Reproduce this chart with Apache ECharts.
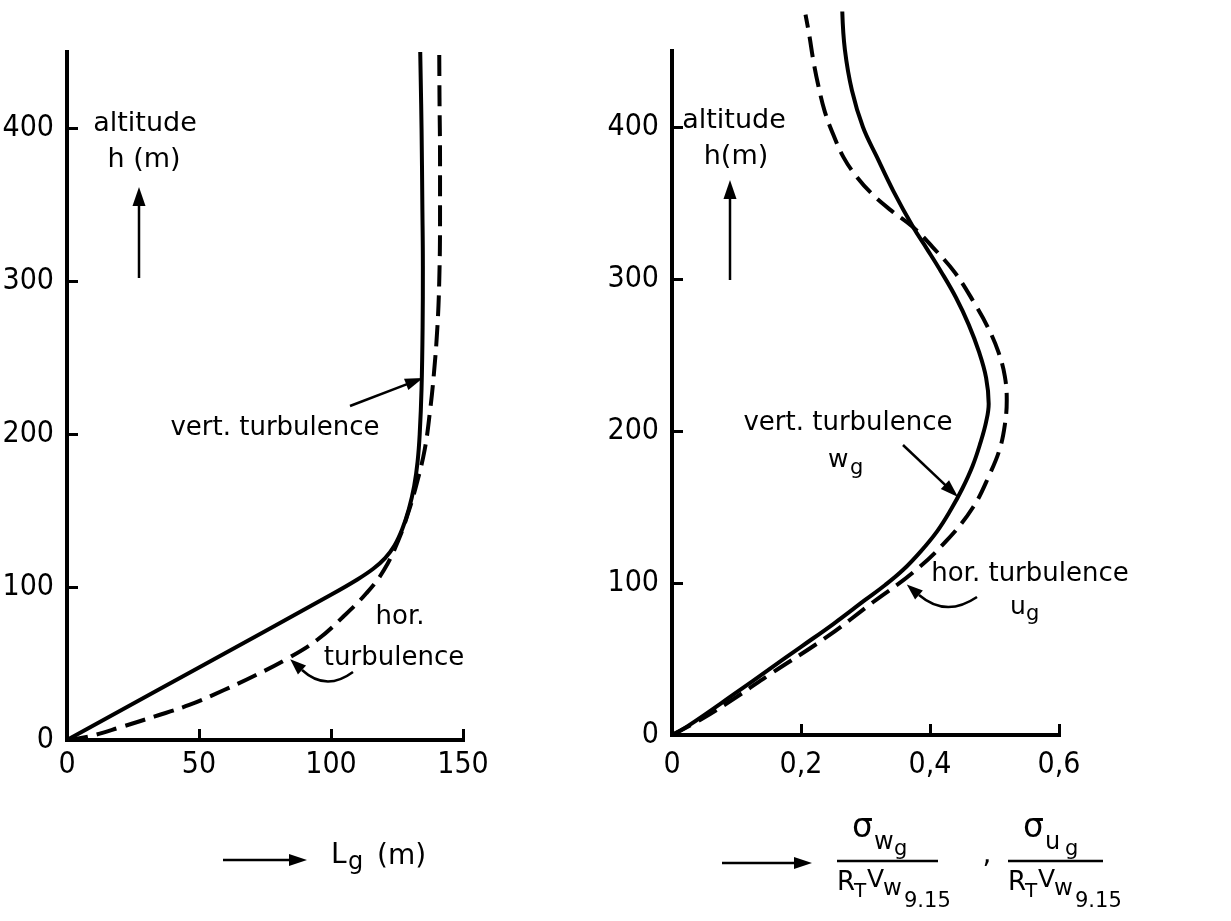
<!DOCTYPE html>
<html>
<head>
<meta charset="utf-8">
<title>Turbulence scale length and intensity vs. altitude</title>
<script src="https://cdn.jsdelivr.net/npm/echarts@6/dist/echarts.min.js"></script>
<style>
  html, body { margin: 0; padding: 0; background: #fff; }
  #chart { width: 1231px; height: 921px; }
</style>
</head>
<body>
<div id="chart"></div>
<script>
// ---- data ------------------------------------------------------------
// altitude axis (both panels)
const altitudeTicks = [0, 100, 200, 300, 400];
// left panel: scale length L_g (m)
const lengthTicks = [0, 50, 100, 150];
// right panel: normalised rms gust intensity
const intensityTicks = [0, 0.2, 0.4, 0.6];

// L_g of vertical turbulence [L_g, h]
const lengthVertical = [
  [0, 0], [50, 47.5], [100, 95], [110, 105], [116, 112], [120.5, 119],
  [124, 127], [127, 138], [129.5, 151], [131.5, 166], [132.8, 182],
  [133.6, 200], [134.3, 230], [134.7, 270], [134.8, 310], [134.6, 350],
  [134.3, 400], [133.8, 450]
];
// L_g of horizontal turbulence [L_g, h]
const lengthHorizontal = [
  [0, 0], [8.8, 2.5], [20.9, 8.7], [33, 15.3], [46.3, 22.9], [59.5, 32.7],
  [71.6, 42.5], [83.7, 53.4], [94.7, 65.4], [104.6, 80.6], [113.4, 96],
  [120, 111], [125.6, 131], [129.5, 150], [132.5, 168], [135.5, 190],
  [137.5, 215], [139, 240], [140.3, 270], [141, 300], [141.3, 340],
  [141.3, 380], [141.1, 420], [141, 450]
];
// sigma_wg / (R_T V_w9.15) [ratio, h]
const intensityVertical = [
  [0, 0], [0.025, 6], [0.1, 28], [0.15, 43], [0.2, 58], [0.25, 73],
  [0.3, 89], [0.33, 98.5], [0.358, 108.5], [0.385, 120.5], [0.411, 134],
  [0.432, 148], [0.45, 162], [0.466, 177], [0.478, 192], [0.487, 206],
  [0.491, 218], [0.487, 235], [0.476, 252], [0.46, 270], [0.44, 288],
  [0.417, 305], [0.395, 320], [0.374, 334], [0.343, 358], [0.318, 380],
  [0.296, 400], [0.279, 424], [0.268, 451], [0.264, 476]
];
// sigma_ug / (R_T V_w9.15) [ratio, h]
const intensityHorizontal = [
  [0, 0], [0.048, 11], [0.1, 25], [0.152, 40], [0.24, 64.5], [0.312, 87.5],
  [0.374, 107], [0.426, 128], [0.467, 150], [0.493, 172], [0.508, 188],
  [0.516, 204], [0.519, 220], [0.516, 236], [0.506, 252], [0.49, 268],
  [0.469, 284], [0.439, 304], [0.404, 321], [0.374, 334], [0.34, 345],
  [0.31, 356], [0.285, 368], [0.266, 380], [0.25, 395], [0.237, 410],
  [0.227, 427], [0.219, 444], [0.213, 460], [0.207, 474]
];

// ---- styling helpers -------------------------------------------------
const INK = '#000';
const TICK_FONT = "'Liberation Sans Narrow', 'DejaVu Sans Condensed', 'Liberation Sans', sans-serif";
const TEXT_FONT = "'DejaVu Sans', sans-serif";

function valueAxis(grid, min, max, interval, ticks, labelMargin, formatter) {
  return {
    type: 'value', gridIndex: grid, min: min, max: max, interval: interval,
    axisLine: { show: true, onZero: false, lineStyle: { color: INK, width: 4, cap: 'square' } },
    axisTick: { show: true, inside: true, length: 11, customValues: ticks.filter(v => v !== 0),
                lineStyle: { color: INK, width: 3 } },
    axisLabel: { show: true, customValues: ticks, color: INK, fontSize: 30,
                 fontFamily: TICK_FONT, margin: labelMargin, formatter: formatter },
    splitLine: { show: false }
  };
}

function curve(xi, data, dashed) {
  return {
    type: 'line', xAxisIndex: xi, yAxisIndex: xi, data: data,
    smooth: 0.4, showSymbol: false, clip: false, silent: true,
    lineStyle: { color: INK, width: 4, type: dashed ? [21, 9] : 'solid', cap: 'butt', join: 'round' }
  };
}

function text(str, x, y, size, align) {
  return {
    type: 'text', x: x, y: y, silent: true,
    style: { text: str, fill: INK, font: size + 'px ' + TEXT_FONT,
             align: align || 'center', verticalAlign: 'middle',
             textAlign: align || 'center', textVerticalAlign: 'middle' }
  };
}

function arrow(x1, y1, x2, y2, len, w) {
  len = len || 18; w = w || 12;
  const dx = x2 - x1, dy = y2 - y1, d = Math.hypot(dx, dy);
  const ux = dx / d, uy = dy / d;
  const bx = x2 - ux * len, by = y2 - uy * len;
  return [
    { type: 'line', silent: true, shape: { x1: x1, y1: y1, x2: bx + ux, y2: by + uy },
      style: { stroke: INK, lineWidth: 2.5 } },
    { type: 'polygon', silent: true,
      shape: { points: [[x2, y2], [bx - uy * w / 2, by + ux * w / 2], [bx + uy * w / 2, by - ux * w / 2]] },
      style: { fill: INK } }
  ];
}

function curvedArrow(sx, sy, cx, cy, ex, ey, len, w) {
  len = len || 16; w = w || 12;
  const dx = ex - cx, dy = ey - cy, d = Math.hypot(dx, dy);
  const ux = dx / d, uy = dy / d;
  const tx = ex + ux * len, ty = ey + uy * len;
  return [
    { type: 'bezierCurve', silent: true,
      shape: { x1: sx, y1: sy, x2: ex, y2: ey, cpx1: cx, cpy1: cy },
      style: { stroke: INK, lineWidth: 2.5, fill: null } },
    { type: 'polygon', silent: true,
      shape: { points: [[tx, ty], [ex - uy * w / 2, ey + ux * w / 2], [ex + uy * w / 2, ey - ux * w / 2]] },
      style: { fill: INK } }
  ];
}

// normalised-intensity fraction: sigma_(sub g) over R_T V_w9.15
function fraction(x0, sub, barWidth) {
  return [
    text('σ', x0 + 15, 828, 33, 'left'),
    text(sub, x0 + 37, 843, 24, 'left'),
    text('g', x0 + 57, 850, 21, 'left'),
    { type: 'line', silent: true, shape: { x1: x0, y1: 861, x2: x0 + barWidth, y2: 861 },
      style: { stroke: INK, lineWidth: 2.5 } },
    text('R', x0, 883, 26, 'left'),
    text('T', x0 + 17, 892, 20, 'left'),
    text('V', x0 + 30, 880, 25, 'left'),
    text('w', x0 + 46, 889, 23, 'left'),
    text('9.15', x0 + 67, 902, 21, 'left')
  ];
}

const decimalComma = v => (v === 0 ? '0' : v.toFixed(1).replace('.', ','));

// ---- annotations -----------------------------------------------------
const annotations = [].concat(
  // left panel
  text('altitude', 145, 124, 27),
  text('h (m)', 144, 160, 27),
  arrow(139, 278, 139, 187, 19, 13),
  text('vert. turbulence', 275, 428, 26),
  arrow(350, 406, 423, 378),
  text('hor.', 400, 617, 26),
  text('turbulence', 394, 658, 26),
  curvedArrow(353, 672, 326, 692, 302, 670),
  arrow(223, 860, 307, 860, 18, 12),
  text('L', 331, 856, 28, 'left'),
  text('g', 348, 863, 24, 'left'),
  text('(m)', 377, 857, 28, 'left'),
  // right panel
  text('altitude', 734, 121, 27),
  text('h(m)', 736, 157, 27),
  arrow(730, 280, 730, 180, 19, 13),
  text('vert. turbulence', 848, 423, 26),
  text('w', 828, 460, 25, 'left'),
  text('g', 850, 469, 21, 'left'),
  arrow(903, 445, 958, 497),
  text('hor. turbulence', 1030, 574, 26),
  text('u', 1010, 607, 25, 'left'),
  text('g', 1026, 615, 21, 'left'),
  curvedArrow(977, 597, 946, 618, 919, 595),
  arrow(722, 863, 812, 863, 18, 12),
  fraction(837, 'w', 101),
  text(',', 987, 856, 28),
  fraction(1008, 'u', 95)
);

// ---- chart -----------------------------------------------------------
const chart = echarts.init(document.getElementById('chart'), null, { renderer: 'canvas' });
chart.setOption({
  animation: false,
  backgroundColor: '#fff',
  grid: [
    { left: 67, top: 52, width: 396, height: 688, containLabel: false, outerBoundsMode: 'none' },
    { left: 672, top: 51, width: 387, height: 684, containLabel: false, outerBoundsMode: 'none' }
  ],
  xAxis: [
    valueAxis(0, 0, 150, 50, lengthTicks, 10),
    valueAxis(1, 0, 0.6, 0.2, intensityTicks, 15, decimalComma)
  ],
  yAxis: [
    valueAxis(0, 0, 450, 100, altitudeTicks, 13),
    valueAxis(1, 0, 450, 100, altitudeTicks, 13)
  ],
  series: [
    curve(0, lengthVertical, false),
    curve(0, lengthHorizontal, true),
    curve(1, intensityVertical, false),
    curve(1, intensityHorizontal, true)
  ],
  graphic: { elements: annotations }
});
</script>
</body>
</html>
